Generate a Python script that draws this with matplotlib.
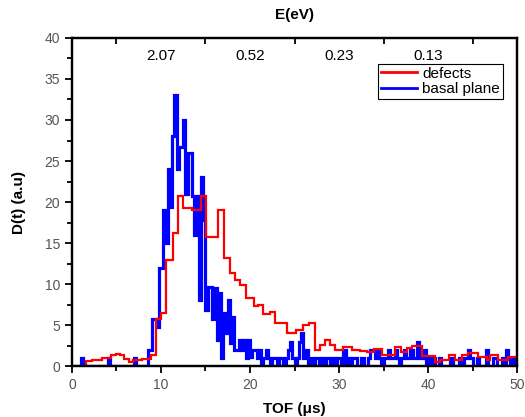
import matplotlib
matplotlib.use("Agg")
import matplotlib.pyplot as plt
from matplotlib.lines import Line2D
import numpy as np

plt.rcParams['font.family'] = ['Liberation Sans', 'DejaVu Sans']

# basal plane: fine TOF bins of 0.25 us, 0 .. 50 us
BIN_WIDTH = 0.25
basal = [
    0, 0, 0, 0, 1, 0, 0, 0, 0, 0, 0, 0, 0, 0, 0, 0, 1, 0, 0, 0,
    0, 0, 0, 0, 0, 0, 0, 0, 1, 0, 0, 0, 0, 0, 2, 2, 5.8, 5.8, 4.8, 12,
    12, 19, 15, 24, 19.4, 28, 33, 24, 26.7, 26.7, 30, 21, 26, 26, 20.7, 16, 20.7, 8, 23, 17.8,
    6.8, 9.7, 9.7, 5.8, 9.5, 3.2, 8.9, 1.0, 6.5, 4.0, 8, 2.8, 6, 2, 2, 3.2, 2, 3.2, 1.0, 3.2,
    1.1, 2, 2, 1, 2, 0, 1, 2, 1, 0, 1, 1, 0, 1, 1, 0, 1, 2, 3, 1,
    0, 1, 3, 4, 1, 2, 0, 1, 0, 1, 1, 0, 1, 0, 1, 1, 0, 1, 0, 1,
    1, 0, 2, 0, 1, 0, 1, 1, 0, 0, 1, 0, 0, 1, 2, 2, 1, 2, 1, 0,
    1, 1, 2, 1, 1, 2, 1, 0, 1, 2, 1, 1, 2, 1, 1, 3, 1, 1, 2, 0,
    1, 0, 1, 0, 0, 1, 0, 0, 0, 0, 1, 0, 0, 0, 1, 0, 1, 1, 2, 1,
    0, 0, 1, 0, 0, 0, 2, 0, 0, 1, 1, 0, 0, 1, 0, 2, 1, 0, 1, 0,
]
basal_edges = np.arange(len(basal) + 1) * BIN_WIDTH

# defects: coarser, uneven bins
defect_edges = [
    1.6, 2.2, 2.8, 3.4, 3.9, 4.4, 4.9, 5.4, 5.9, 6.4, 6.9, 7.9, 8.9, 9.4, 10.0,
    10.6, 11.3, 11.9, 12.5, 13.5, 14.5, 15.1, 16.4, 17.1, 17.7,
    18.3, 18.9, 19.6, 20.4, 20.9, 21.5, 22.2, 22.8, 24.1, 25.2,
    26.0, 26.6, 27.3, 27.9, 28.4, 29.0, 29.6, 30.5, 31.4, 32.4,
    33.1, 33.9, 34.8, 36.3, 37.0, 37.6, 38.2, 39.3, 40.8, 41.3,
    42.3, 43.0, 43.8, 44.5, 45.6, 46.6, 47.0, 47.9, 49.0, 50.0,
]
defects = [
    0.6, 0.8, 0.7, 1.0, 1.0, 1.3, 1.5, 1.3, 0.9, 0.5, 0.8, 0.9, 1.4, 5.8,
    6.5, 12.9, 16.2, 20.7, 19.3, 19.0, 20.7, 15.7, 19.0, 13.2, 11.4,
    10.5, 9.9, 8.25, 7.3, 7.4, 6.4, 6.6, 5.2, 4.0, 4.4,
    5.0, 5.2, 1.95, 2.6, 3.2, 2.6, 1.95, 2.35, 2.0, 1.9,
    1.7, 2.1, 1.3, 2.35, 1.74, 2.15, 2.4, 1.22, 0.53, 0.8,
    1.34, 0.8, 1.34, 1.55, 1.14, 0.73, 1.34, 0.8, 1.06,
]

# energy scale on top axis
tof_for_energy = [10, 20, 30, 40]
energy_labels = ['2.07', '0.52', '0.23', '0.13']

RED = '#ff0000'
BLUE = '#0000ff'

fig = plt.figure(figsize=(5.25, 4.17), dpi=100)
ax = fig.add_axes([0.137, 0.122, 0.848, 0.787])

ax.stairs(basal, basal_edges, color=BLUE, lw=2.3, baseline=0)
ax.stairs(defects, defect_edges, color=RED, lw=1.6, baseline=0)

ax.set_xlim(0, 50)
ax.set_ylim(0, 40)
ax.set_xticks(range(0, 51, 10))
ax.set_xticks(range(5, 50, 10), minor=True)
ax.set_yticks(range(0, 41, 5))
ax.set_yticks(np.arange(2.5, 40, 5), minor=True)
ax.tick_params(which='both', direction='out', top=False, right=False,
               labelsize=10, labelcolor='#555555', width=1.3)
ax.tick_params(which='major', length=5)
ax.tick_params(which='minor', length=3.5)
for s in ax.spines.values():
    s.set_linewidth(1.6)

ax.set_xlabel('TOF (\u03bcs)', fontweight='bold', fontsize=11, labelpad=7)
ax.set_ylabel('D(t) (a.u)', fontweight='bold', fontsize=11, labelpad=13)

top = ax.twiny()
top.set_xlim(0, 50)
top.set_xticks(tof_for_energy)
top.set_xticklabels(energy_labels)
top.set_xticks(range(5, 50, 10), minor=True)
top.tick_params(which='major', length=0, pad=-18, labelsize=11)
top.tick_params(which='minor', direction='in', length=4, width=1.3)
top.set_xlabel('E(eV)', fontweight='bold', fontsize=11, labelpad=10)
for s in top.spines.values():
    s.set_linewidth(1.6)

handles = [Line2D([], [], color=RED, lw=2), Line2D([], [], color=BLUE, lw=2)]
leg = ax.legend(handles, ['defects', 'basal plane'], loc='upper right',
                bbox_to_anchor=(0.968, 0.922), fancybox=False, framealpha=1,
                edgecolor='black', fontsize=11, handlelength=2.4,
                borderpad=0.2, labelspacing=0.1, handletextpad=0.3,
                borderaxespad=0)
leg.get_frame().set_linewidth(0.8)

fig.savefig('out.png', dpi=100)
